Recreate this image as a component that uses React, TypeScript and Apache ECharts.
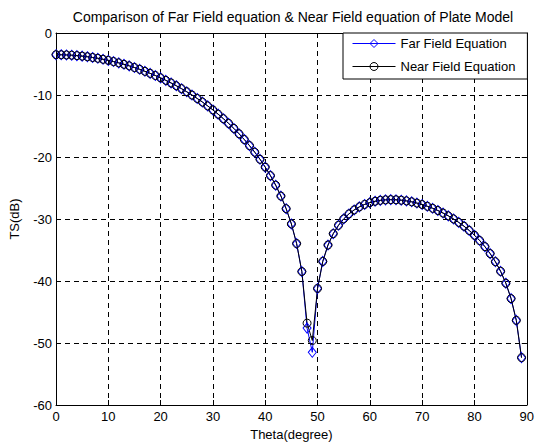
import { useEffect, useRef } from "react";
import * as echarts from "echarts";

const chartTitle = "Comparison of Far Field equation & Near Field equation of Plate Model";
const xName = "Theta(degree)";
const yName = "TS(dB)";

const theta = [
  0, 1, 2, 3, 4, 5, 6, 7, 8, 9, 10, 11, 12, 13, 14, 15, 16, 17, 18, 19,
  20, 21, 22, 23, 24, 25, 26, 27, 28, 29, 30, 31, 32, 33, 34, 35, 36, 37, 38, 39,
  40, 41, 42, 43, 44, 45, 46, 47, 48, 49, 50, 51, 52, 53, 54, 55, 56, 57, 58, 59,
  60, 61, 62, 63, 64, 65, 66, 67, 68, 69, 70, 71, 72, 73, 74, 75, 76, 77, 78, 79,
  80, 81, 82, 83, 84, 85, 86, 87, 88, 89,
];

const farField = [
  -3.5, -3.51, -3.54, -3.58, -3.65, -3.73, -3.83, -3.95, -4.08, -4.24,
  -4.41, -4.61, -4.82, -5.05, -5.3, -5.57, -5.86, -6.18, -6.51, -6.86,
  -7.24, -7.64, -8.06, -8.51, -8.98, -9.48, -10.01, -10.56, -11.14, -11.76,
  -12.41, -13.09, -13.82, -14.58, -15.39, -16.26, -17.18, -18.17, -19.23, -20.37,
  -21.63, -23.01, -24.55, -26.3, -28.34, -30.8, -33.96, -38.48, -47.6, -51.5,
  -41.2, -36.84, -34.2, -32.37, -31.02, -29.98, -29.18, -28.54, -28.04, -27.65,
  -27.36, -27.14, -26.99, -26.91, -26.88, -26.9, -26.97, -27.08, -27.23, -27.43,
  -27.67, -27.95, -28.27, -28.63, -29.04, -29.49, -29.99, -30.55, -31.16, -31.85,
  -32.62, -33.48, -34.46, -35.58, -36.89, -38.44, -40.36, -42.84, -46.35, -52.36,
];

const nearField = [
  -3.5, -3.51, -3.54, -3.58, -3.65, -3.73, -3.83, -3.95, -4.08, -4.24,
  -4.41, -4.61, -4.82, -5.05, -5.3, -5.57, -5.86, -6.18, -6.51, -6.86,
  -7.24, -7.64, -8.06, -8.51, -8.98, -9.48, -10.01, -10.56, -11.14, -11.76,
  -12.41, -13.09, -13.82, -14.58, -15.39, -16.26, -17.18, -18.17, -19.23, -20.37,
  -21.63, -23.01, -24.55, -26.3, -28.34, -30.8, -33.96, -38.48, -46.8, -49.6,
  -41.2, -36.84, -34.2, -32.37, -31.02, -29.98, -29.18, -28.54, -28.04, -27.65,
  -27.36, -27.14, -26.99, -26.91, -26.88, -26.9, -26.97, -27.08, -27.23, -27.43,
  -27.67, -27.95, -28.27, -28.63, -29.04, -29.49, -29.99, -30.55, -31.16, -31.85,
  -32.62, -33.48, -34.46, -35.58, -36.89, -38.44, -40.36, -42.84, -46.35, -52.36,
];

const seriesNames = ["Far Field Equation", "Near Field Equation"];

export default function App() {
  const ref = useRef<HTMLDivElement>(null);
  useEffect(() => {
    const chart = echarts.init(ref.current!, null, { renderer: "svg" });
    const font = "'Liberation Sans', Arial, Helvetica, sans-serif";
    const gridLeft = 55;
    const gridTop = 33;
    const gridW = 476;
    const gridH = 375;
    const baseAxis = {
      type: "value",
      min: 0,
      max: 90,
      interval: 10,
      axisLine: { show: true, onZero: false, lineStyle: { color: "#000", width: 1 } },
      axisTick: { show: true, inside: true, length: 5, lineStyle: { color: "#000" } },
    };
    const baseY = {
      type: "value",
      min: -60,
      max: 0,
      interval: 10,
      axisLine: { show: true, onZero: false, lineStyle: { color: "#000", width: 1 } },
      axisTick: { show: true, inside: true, length: 5, lineStyle: { color: "#000" } },
    };
    chart.setOption({
      animation: false,
      backgroundColor: "#fff",
      textStyle: { fontFamily: font },
      graphic: [
        {
          type: "text",
          x: gridLeft + gridW / 2,
          y: 17,
          style: {
            text: chartTitle,
            fontSize: 14,
            fontFamily: font,
            fill: "#000",
            textAlign: "center",
            textVerticalAlign: "middle",
          },
        },
      ],
      grid: { left: gridLeft, top: gridTop, width: gridW, height: gridH },
      legend: {
        left: 343,
        top: 33,
        orient: "vertical",
        data: seriesNames,
        itemWidth: 43,
        itemHeight: 10,
        itemGap: 10,
        padding: [4, 12, 6, 9],
        borderColor: "#000",
        borderWidth: 1,
        backgroundColor: "#fff",
        lineStyle: { width: 1 },
        itemStyle: { borderWidth: 1 },
        textStyle: { fontSize: 13, color: "#000", fontFamily: font },
      },
      xAxis: [
        {
          ...baseAxis,
          position: "bottom",
          name: xName,
          nameLocation: "middle",
          nameGap: 23,
          nameTextStyle: { fontSize: 13, color: "#000", fontFamily: font },
          axisLabel: { color: "#000", fontSize: 13, margin: 5, fontFamily: font },
          splitLine: { show: true, lineStyle: { color: "#000", type: [5, 4], width: 1 } },
        },
        {
          ...baseAxis,
          position: "top",
          axisLabel: { show: false },
          splitLine: { show: false },
        },
      ],
      yAxis: [
        {
          ...baseY,
          position: "left",
          name: yName,
          nameLocation: "middle",
          nameGap: 35,
          nameTextStyle: { fontSize: 13, color: "#000", fontFamily: font },
          axisLabel: { color: "#000", fontSize: 13, margin: 4, fontFamily: font },
          splitLine: { show: true, lineStyle: { color: "#000", type: [5, 4], width: 1 } },
        },
        {
          ...baseY,
          position: "right",
          axisLabel: { show: false },
          splitLine: { show: false },
        },
      ],
      series: [
        {
          name: seriesNames[0],
          type: "line",
          xAxisIndex: 0,
          yAxisIndex: 0,
          data: theta.map((t, i) => [t, farField[i]]),
          symbol: "diamond",
          symbolSize: [8, 10],
          showSymbol: true,
          showAllSymbol: true,
          lineStyle: { color: "#0000ff", width: 1 },
          itemStyle: { color: "rgba(0,0,0,0)", borderColor: "#0000ff", borderWidth: 1 },
          emphasis: { disabled: true },
        },
        {
          name: seriesNames[1],
          type: "line",
          xAxisIndex: 0,
          yAxisIndex: 0,
          data: theta.map((t, i) => [t, nearField[i]]),
          symbol: "circle",
          symbolSize: 8,
          showSymbol: true,
          showAllSymbol: true,
          lineStyle: { color: "#000", width: 1 },
          itemStyle: { color: "rgba(0,0,0,0)", borderColor: "#000", borderWidth: 1 },
          emphasis: { disabled: true },
        },
      ],
    });
    return () => chart.dispose();
  }, []);
  return (
    <div
      ref={ref}
      style={{ position: "absolute", left: 0, top: 0, width: 537, height: 446 }}
    />
  );
}
